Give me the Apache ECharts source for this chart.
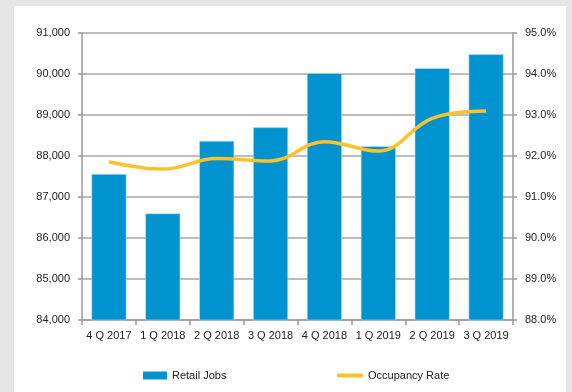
<!DOCTYPE html>
<html><head><meta charset="utf-8">
<script src="https://cdn.jsdelivr.net/npm/echarts@6/dist/echarts.min.js"></script>
<style>html,body{margin:0;padding:0;background:#e6e6e6}#c{width:572px;height:392px}</style>
</head><body><div id="c"></div>
<script>
const categories = ['4 Q 2017','1 Q 2018','2 Q 2018','3 Q 2018','4 Q 2018','1 Q 2019','2 Q 2019','3 Q 2019'];
const retailJobs = [87560, 86600, 88370, 88700, 90020, 88240, 90140, 90480];
const occupancyRate = [91.86, 91.68, 91.94, 91.88, 92.35, 92.12, 92.92, 93.10];

const font = 'Liberation Sans, Arial, sans-serif';
const chart = echarts.init(document.getElementById('c'));
chart.setOption({
  backgroundColor: '#e6e6e6',
  animation: false,
  graphic: [{type:'rect', z:-10, shape:{x:14,y:6,width:552,height:386}, style:{fill:'#ffffff'}}],
  grid: {left:82, right:59, top:33, bottom:72},
  legend: [
    {data:[{name:'Retail Jobs', icon:'rect', itemStyle:{borderWidth:0, color:'#0093d0'}}], left:143, top:370, padding:0, itemGap:4,
     itemWidth:24, itemHeight:8, textStyle:{fontFamily:font,fontSize:11,color:'#222'}},
    {data:[{name:'Occupancy Rate', icon:'roundRect', itemStyle:{color:'#fdc12a'}}], left:337, top:370, padding:0,
     itemWidth:26, itemHeight:4, textStyle:{fontFamily:font,fontSize:11,color:'#222'}}
  ],
  xAxis: {
    type:'category', data:categories,
    axisLine:{lineStyle:{color:'#999',width:1.5}},
    axisTick:{show:true,length:5,lineStyle:{color:'#999',width:1.5}},
    axisLabel:{fontFamily:font,fontSize:11,color:'#222',margin:10,interval:0}
  },
  yAxis: [
    {type:'value', min:84000, max:91000, interval:1000,
     axisLine:{show:true,lineStyle:{color:'#999',width:1.5}},
     axisTick:{show:true,length:4,lineStyle:{color:'#999',width:1.5}},
     splitLine:{lineStyle:{color:'#a6a6a6',width:1.5}},
     axisLabel:{fontFamily:font,fontSize:11,color:'#222',margin:12,
       formatter:v=>v.toLocaleString('en-US')}},
    {type:'value', min:88, max:95, interval:1, position:'right',
     axisLine:{show:true,lineStyle:{color:'#999',width:1.5}},
     axisTick:{show:true,length:4,lineStyle:{color:'#999',width:1.5}},
     splitLine:{show:false},
     axisLabel:{fontFamily:font,fontSize:11,color:'#222',margin:12,
       formatter:v=>v.toFixed(1)+'%'}}
  ],
  series: [
    {name:'Retail Jobs', type:'bar', data:retailJobs, barWidth:35,
     itemStyle:{color:'#0093d0', borderColor:'#bfe3f3', borderWidth:0.6}},
    {name:'Occupancy Rate', type:'line', yAxisIndex:1, data:occupancyRate, smooth:0.4,
     showSymbol:false, symbol:'none', lineStyle:{color:'#fdc12a', width:3.5}, itemStyle:{color:'#fdc12a'}}
  ]
});
</script></body></html>
